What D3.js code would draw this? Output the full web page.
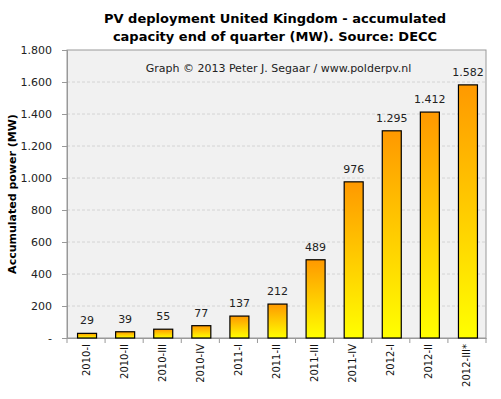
<!DOCTYPE html>
<html>
<head>
<meta charset="utf-8">
<script src="https://cdn.jsdelivr.net/npm/d3@7"></script>
<style>
  body { margin: 0; background: #fff; }
  text { font-family: Verdana, "DejaVu Sans", sans-serif; }
</style>
</head>
<body>
<div id="grafico"></div>
<script>
// Dados do gráfico
const trimestres = ["2010-I", "2010-II", "2010-III", "2010-IV", "2011-I", "2011-II",
                    "2011-III", "2011-IV", "2012-I", "2012-II", "2012-III*"];
const potencia = [29, 39, 55, 77, 137, 212, 489, 976, 1295, 1412, 1582];
const ticksY = [0, 200, 400, 600, 800, 1000, 1200, 1400, 1600, 1800];

const largura = 501, altura = 399;
const margin = { top: 50, right: 15, bottom: 61, left: 67 };
const w = largura - margin.left - margin.right;
const h = altura - margin.top - margin.bottom;

const svg = d3.select("#grafico").append("svg")
    .attr("width", largura)
    .attr("height", altura);

// Gradiente das barras (laranja em cima, amarelo embaixo)
const grad = svg.append("defs").append("linearGradient")
    .attr("id", "gradBarra")
    .attr("x1", 0).attr("y1", 0).attr("x2", 0).attr("y2", 1);
grad.append("stop").attr("offset", "0%").attr("stop-color", "#ff9900");
grad.append("stop").attr("offset", "100%").attr("stop-color", "#ffff00");

const g = svg.append("g")
    .attr("transform", `translate(${margin.left},${margin.top})`);

const x = d3.scaleBand().domain(trimestres).range([0, w]).padding(0);
const y = d3.scaleLinear().domain([0, 1800]).range([h, 0]);

// Fundo da área do gráfico
g.append("rect")
    .attr("width", w).attr("height", h)
    .attr("fill", "#f1f1f1");

// Linhas de grade tracejadas
g.selectAll(".grade").data(ticksY.slice(1, -1)).join("line")
    .attr("x1", 0).attr("x2", w)
    .attr("y1", d => y(d)).attr("y2", d => y(d))
    .attr("stroke", "#d4d4d4")
    .attr("stroke-dasharray", "3,2");

// Borda
g.append("rect")
    .attr("width", w).attr("height", h)
    .attr("fill", "none")
    .attr("stroke", "#999");

// Subtítulo dentro do gráfico
g.append("text")
    .attr("x", w / 2 + 2).attr("y", 22)
    .attr("text-anchor", "middle")
    .attr("font-size", 11)
    .attr("fill", "#222")
    .text("Graph © 2013 Peter J. Segaar / www.polderpv.nl");

// Eixo Y
const fmt = d => d === 0 ? "-" : d3.format(",")(d).replace(/,/g, ".");
const eixoY = g.append("g")
    .call(d3.axisLeft(y).tickValues(ticksY).tickFormat(fmt).tickSize(5).tickPadding(10));
eixoY.select(".domain").attr("stroke", "#999");
eixoY.selectAll(".tick line").attr("stroke", "#999");
eixoY.selectAll("text").attr("font-size", 11).attr("fill", "#222")
    .style("font-family", "Verdana, 'DejaVu Sans', sans-serif");

// Eixo X
const eixoX = g.append("g")
    .attr("transform", `translate(0,${h})`)
    .call(d3.axisBottom(x).tickSize(0).tickPadding(0));
eixoX.select(".domain").attr("stroke", "#999");
eixoX.selectAll("text")
    .attr("font-size", 10)
    .attr("fill", "#111")
    .style("font-family", "Verdana, 'DejaVu Sans', sans-serif")
    .attr("text-anchor", "end")
    .attr("transform", "rotate(-90)")
    .attr("x", -6)
    .attr("y", 0)
    .attr("dy", "0.35em");

// Marcas entre categorias
const limites = trimestres.map(t => x(t)).concat([w]);
g.selectAll(".marca").data(limites).join("line")
    .attr("x1", d => d).attr("x2", d => d)
    .attr("y1", h).attr("y2", h + 5)
    .attr("stroke", "#999");

// Barras
const larguraBarra = 19;
g.selectAll(".barra").data(potencia).join("rect")
    .attr("x", (d, i) => x(trimestres[i]) + x.bandwidth() / 2 - larguraBarra / 2 + 1)
    .attr("y", d => y(d))
    .attr("width", larguraBarra)
    .attr("height", d => h - y(d))
    .attr("fill", "url(#gradBarra)")
    .attr("stroke", "#000")
    .attr("stroke-width", 1.2);

// Rótulos de valor
g.selectAll(".rotulo").data(potencia).join("text")
    .attr("x", (d, i) => x(trimestres[i]) + x.bandwidth() / 2 + 1)
    .attr("y", d => y(d) - 9)
    .attr("text-anchor", "middle")
    .attr("font-size", 11)
    .attr("fill", "#222")
    .text(fmt);

// Título
const titulo = svg.append("text")
    .attr("x", 275).attr("text-anchor", "middle")
    .attr("font-size", 13).attr("font-weight", "bold");
titulo.append("tspan").attr("x", 275).attr("y", 23).text("PV deployment United Kingdom - accumulated");
titulo.append("tspan").attr("x", 275).attr("y", 41).text("capacity end of quarter (MW). Source: DECC");

// Título do eixo Y
svg.append("text")
    .attr("transform", `translate(16,${margin.top + h / 2}) rotate(-90)`)
    .attr("text-anchor", "middle")
    .attr("font-size", 11).attr("font-weight", "bold")
    .text("Accumulated power (MW)");
</script>
</body>
</html>
